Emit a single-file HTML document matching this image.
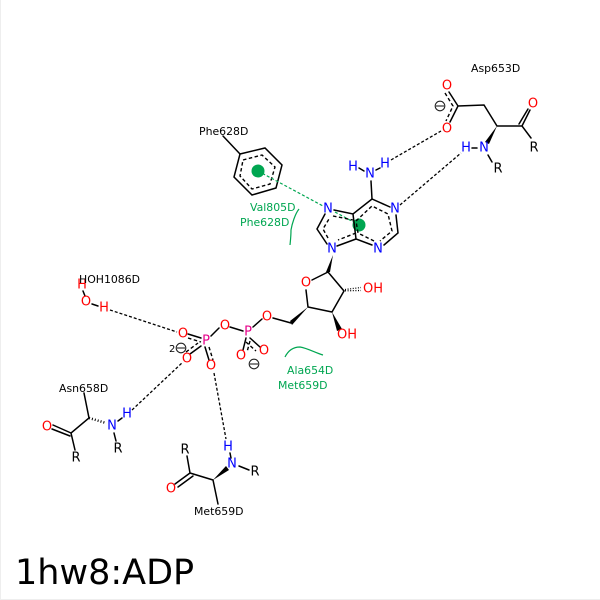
<!DOCTYPE html>
<html><head><meta charset="utf-8"><style>
html,body{margin:0;padding:0;background:#fff}
svg{display:block}
text{font-family:"DejaVu Sans",sans-serif}
.a{font-size:13px;text-anchor:middle;dominant-baseline:central}
.l{font-size:10.9px;fill:#000}
.g{font-size:10.9px;fill:#00a651}
.b{stroke:#000;stroke-width:1.5;fill:none;stroke-linecap:round}
.d{stroke:#000;stroke-width:1.4;fill:none;stroke-dasharray:3.5 2.5}
.h{stroke:#000;stroke-width:1.3;fill:none;stroke-dasharray:3 2}
.gd{stroke:#00a651;stroke-width:1.2;fill:none;stroke-dasharray:3 2}
.hash{stroke:#000;stroke-width:1.3;fill:none;stroke-dasharray:1 1.6}
.arc{stroke:#00a651;stroke-width:1.2;fill:none}
.o{fill:#f00}.n{fill:#00f}.p{fill:#e6008a}.k{fill:#000}
</style></head><body>
<svg width="600" height="600" viewBox="0 0 600 600" xmlns="http://www.w3.org/2000/svg">
<rect width="600" height="600" fill="#fff"/>
<path d="M0.500 0V599.500H600" stroke="#eee" fill="none"/>
<!-- Phe ring -->
<path class="b" d="M223 136L240 154"/>
<path class="b" d="M240 154L265 148L282 165L276 188L252 195L234 177Z"/>
<path class="d" d="M243 160L262 155L275 167L270 184L252 189L240 176Z"/>
<circle cx="258" cy="171" r="6.500" fill="#00a651"/>
<circle cx="359" cy="225" r="6.500" fill="#00a651"/>
<path class="gd" d="M258 171L323 206M335 212L359 225"/>
<!-- purine -->
<path class="b" d="M334 210L353 214L372 199L390 207M396 215L398 233L384 245M372 245L356 239L353 214M356 239L337 246M327 244L317 229L325 214"/>
<path class="d" d="M333 216L353 220M356 221L372 206L388 214L392 231L380 241M374 241L358 233L356 221M356 233L338 240M328 238L323 229L329 219"/>
<path class="b" d="M372 199L371 181"/>
<path class="b" d="M364 171L359 168M376 170L380 168"/>
<!-- ribose -->
<path d="M333 255L326 272L330 272Z" fill="#000"/>
<path class="b" d="M328 272L312 280M306 290L308 307L332 312L344 291L328 272"/>
<path d="M308 307L290 321L292 325Z" fill="#000"/>
<path d="M332 312L342 329L337 331Z" fill="#000"/>
<path d="M345 289.500L361 287.500M345 290.800L361 290.500" class="hash"/>
<path class="b" d="M291 323L273 318M262 319L253 327M243 331L230 327M219 328L211 336"/>
<path class="b" d="M246 338L243 350M250 338L260 347"/>
<path class="d" d="M250 341L247 352M246 342L256 351"/>
<path class="b" d="M188 334L201 338M190 354L201 346M205 347L209 360"/>
<path class="d" d="M188 338L201 342M186 352L198 343M209 347L213 360"/>
<!-- Asp -->
<path class="b" d="M449 92L458 106L450 122M458 106L484 105L497 126L522 126L530 110M522 126L531 138"/>
<path class="b" d="M519 124L528 109"/>
<path class="d" d="M445 93L453 106L446 121"/>
<path d="M497 126L485 142L489 144Z" fill="#000"/>
<path class="b" d="M488 155L492 162M472 148L477 148"/>
<!-- water -->
<path class="b" d="M83 291L85 296M92 304L98 306"/>
<!-- Asn -->
<path class="b" d="M84 393L89 418L71 433L75 450M71 433L53 425M70 436L52 429"/>
<path class="hash" d="M89 418L106 423" style="stroke-width:2.500;stroke-dasharray:1 2"/>
<path class="b" d="M114 433L116 441M118 421L122 418"/>
<!-- Met -->
<path class="b" d="M187 456L190 473L213 480L218 504M190 473L175 484M193 476L178 487"/>
<path d="M213 480L226 466L229 470Z" fill="#000"/>
<path class="b" d="M239 466L249 470M231 458L230 453"/>
<!-- H bonds -->
<path class="h" d="M391 160L441 131M400 205L461 153M110 310L177 332M132 410L183 362M214 373L226 439"/>
<!-- green arcs -->
<path class="arc" d="M299 209C295 214 292 224 291 230C291 236 290.500 240 290 245"/>
<path class="arc" d="M285 357C288 351 293 347 300 347C307 348 316 353 323 355"/>
<!-- atoms -->
<g class="a n">
<text x="328" y="209">N</text><text x="332" y="249">N</text><text x="378" y="249">N</text><text x="395" y="209">N</text>
<text x="370" y="174">N</text><text x="353" y="167">H</text><text x="385" y="164">H</text>
<text x="484" y="148">N</text><text x="466" y="148">H</text>
<text x="112" y="426">N</text><text x="127" y="414">H</text>
<text x="232" y="464">N</text><text x="228" y="447">H</text>
</g>
<g class="a o">
<text x="306" y="283">O</text><text x="373" y="289">OH</text>
<text x="347" y="335">OH</text>
<text x="267" y="317">O</text><text x="225" y="326">O</text>
<text x="241" y="356">O</text><text x="264" y="351">O</text>
<text x="183" y="334">O</text><text x="187" y="359">O</text><text x="211" y="366">O</text>
<text x="447" y="86">O</text><text x="447" y="129">O</text><text x="533" y="104">O</text>
<text x="82" y="285">H</text><text x="86" y="302">O</text><text x="104" y="308">H</text>
<text x="47" y="427">O</text><text x="171" y="489">O</text>
</g>
<g class="a p"><text x="248" y="332">P</text><text x="206" y="341">P</text></g>
<g class="a k">
<text x="534" y="148">R</text><text x="498" y="169">R</text>
<text x="76" y="458">R</text><text x="118" y="449">R</text>
<text x="185" y="450">R</text><text x="255" y="472">R</text>
</g>
<!-- charges -->
<g fill="none" stroke="#222" stroke-width="1.100">
<circle cx="440" cy="106" r="4.800"/><path d="M436 106H444"/>
<circle cx="254" cy="364" r="4.800"/><path d="M250 364H258"/>
<circle cx="181" cy="348" r="4.800"/><path d="M177 348H185"/>
</g>
<text x="169" y="352" font-size="10" fill="#000">2</text>
<!-- labels -->
<text class="l" x="471" y="72">Asp653D</text>
<text class="l" x="199" y="135">Phe628D</text>
<text class="l" x="79" y="283">HOH1086D</text>
<text class="l" x="59" y="392">Asn658D</text>
<text class="l" x="194" y="515">Met659D</text>
<text class="g" x="250" y="211">Val805D</text>
<text class="g" x="240" y="226">Phe628D</text>
<text class="g" x="287" y="374">Ala654D</text>
<text class="g" x="278" y="389">Met659D</text>
<text x="15" y="584" font-size="35" fill="#000">1hw8:ADP</text>
</svg>
</body></html>
